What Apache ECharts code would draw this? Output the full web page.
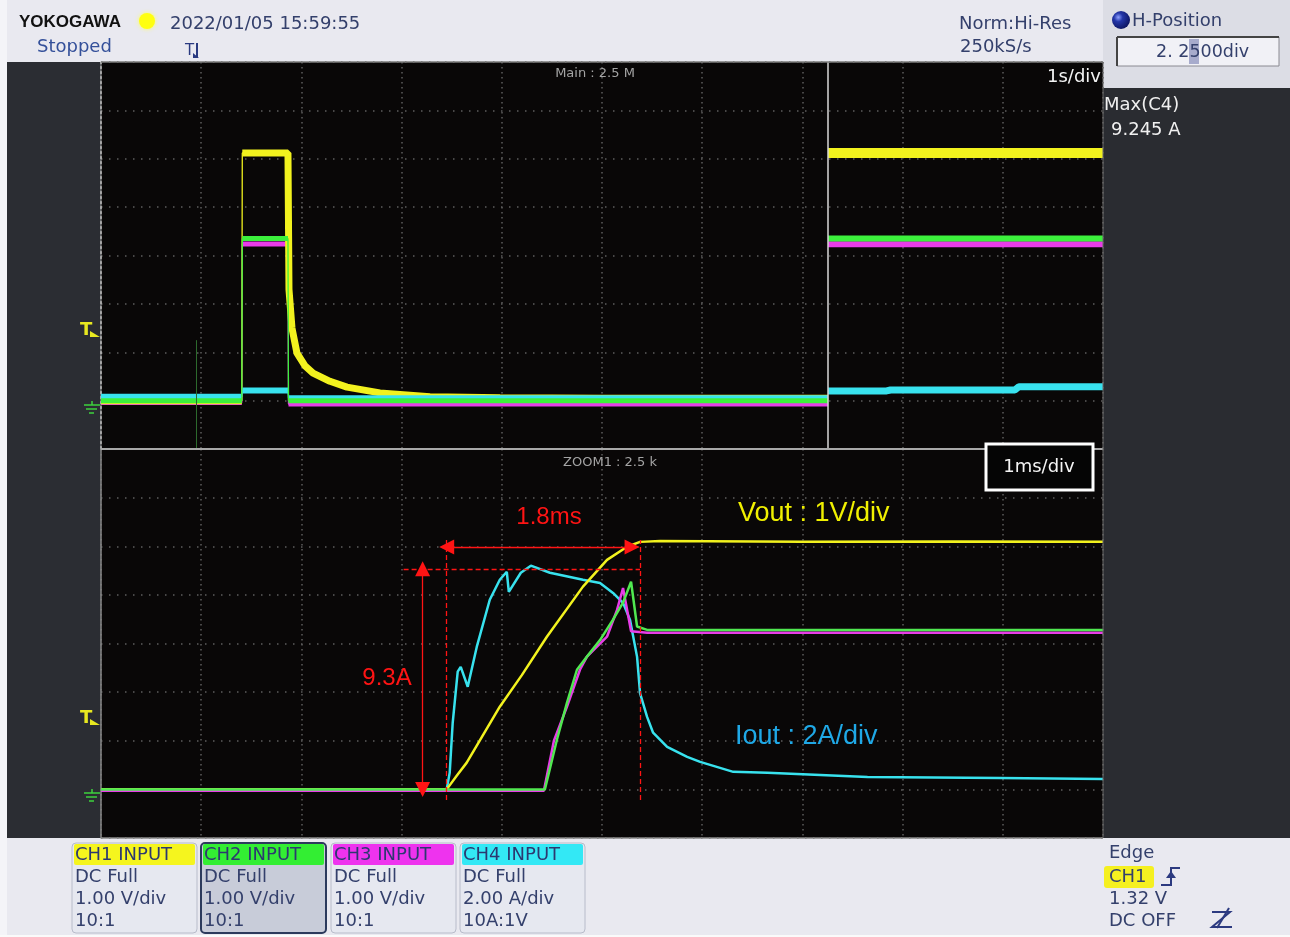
<!DOCTYPE html>
<html><head><meta charset="utf-8">
<script src="https://cdn.jsdelivr.net/npm/echarts@6/dist/echarts.min.js"></script>
<style>html,body{margin:0;padding:0;background:#e9e9f0;}#c{width:1290px;height:937px;}</style>
</head><body><div id="c"></div>
<script>
// ---------- DATA ----------
// Main window (1 s/div): [time s, value]; CH1/CH2/CH3 in V, CH4 in A
const topYellowL = [[0,0],[1.405,0],[1.41,5.12],[1.866,5.12],[1.876,2.3],[1.906,1.5],[1.956,0.98],[2.036,0.72],[2.116,0.57],[2.285,0.40],[2.455,0.28],[2.784,0.16],[3.283,0.08],[3.982,0.06],[5.0,0.05],[7.256,0.05]];
const topGreenL  = [[0,0],[1.405,0],[1.41,3.35],[1.866,3.35],[1.871,0],[7.256,0]];
const topMagentaL= [[0,-0.04],[1.405,-0.04],[1.41,3.24],[1.866,3.24],[1.871,-0.07],[7.256,-0.07]];
const topCyanL   = [[0,0.16],[1.405,0.16],[1.41,0.42],[1.866,0.42],[1.871,0.10],[7.256,0.10]];
const topYellowR = [[7.256,5.12],[10,5.12]];
const topGreenR  = [[7.256,3.35],[10,3.35]];
const topMagentaR= [[7.256,3.23],[10,3.23]];
const topCyanR   = [[7.256,0.40],[7.84,0.40],[7.88,0.44],[9.12,0.44],[9.16,0.57],[10,0.57]];
// Zoom window (1 ms/div): [time ms, value]
const botYellow = [[0,0],[3.45,0],[3.55,0.28],[3.65,0.55],[3.98,1.70],[4.20,2.35],[4.45,3.14],[4.81,4.17],[5.05,4.72],[5.25,4.99],[5.38,5.09],[5.58,5.11],[7.0,5.09],[8.5,5.10],[10,5.09]];
const botCyan = [[0,0],[3.45,0],[3.48,0.68],[3.51,2.74],[3.56,4.84],[3.59,5.04],[3.66,4.22],[3.75,5.86],[3.88,7.80],[3.98,8.62],[4.05,8.95],[4.07,8.12],[4.19,8.91],[4.29,9.2],[4.48,8.91],[4.81,8.62],[4.98,8.49],[5.11,8.08],[5.21,7.67],[5.28,6.97],[5.35,5.45],[5.38,3.95],[5.45,2.98],[5.51,2.33],[5.65,1.75],[5.85,1.34],[5.98,1.13],[6.31,0.72],[6.65,0.68],[7.65,0.51],[8.97,0.47],[10,0.43]];
const botGreen = [[0,0],[4.43,0],[4.55,1.02],[4.65,1.78],[4.75,2.46],[4.85,2.73],[4.98,3.07],[5.11,3.49],[5.21,3.84],[5.29,4.27],[5.35,3.35],[5.45,3.28],[10,3.28]];
const botMagenta = [[0,-0.03],[4.42,-0.03],[4.52,1.0],[4.65,1.70],[4.78,2.46],[4.85,2.73],[5.05,3.14],[5.15,3.69],[5.21,4.14],[5.29,3.25],[5.45,3.22],[10,3.22]];
// annotation values
const riseStart = 3.45, riseEnd = 5.38, arrowEnd = 5.30, peakA = 9.07, vArrowT = 3.21, hDashStart = 3.02;
const trigLevel = 1.32, splitTime = 7.256;
// labels
const chNames = ['CH1 INPUT','CH2 INPUT','CH3 INPUT','CH4 INPUT'];
const chCoupling = ['DC Full','DC Full','DC Full','DC Full'];
const chScale = ['1.00 V/div','1.00 V/div','1.00 V/div','2.00 A/div'];
const chProbe = ['10:1','10:1','10:1','10A:1V'];
const chColors = ['#f5f51e','#33ee33','#ee33ee','#33e8f5'];

// ---------- STYLE ----------
const C_Y='#f2f21e', C_G='#3cf03c', C_M='#e83ce8', C_C='#38e2ee';
const FONT='"DejaVu Sans"';
const GL=101, GW=1002;
const TXT='#34406c';

function splitThick(pts){const out=[];for(let i=0;i<pts.length;i++){if(i>0&&Math.abs(pts[i][0]-pts[i-1][0])<0.006)out.push(null);out.push(pts[i]);}return out;}
function ln(data,color,width,xi,yi,z,extra){return Object.assign({type:'line',data:data,xAxisIndex:xi,yAxisIndex:yi,showSymbol:false,symbol:'none',silent:true,animation:false,z:z||2,lineStyle:{color:color,width:width},connectNulls:false},extra||{});}

const series=[];
function topPair(d,color,w,yi){series.push(ln(d,color,1.3,0,yi,2));series.push(ln(splitThick(d),color,w,0,yi,2));}
// top window, order: magenta, yellow, cyan, green
topPair(topMagentaL,C_M,5,0);topPair(topMagentaR,C_M,6,0);
topPair(topYellowL,C_Y,7,0);topPair(topYellowR,C_Y,10,0);
topPair(topCyanL,C_C,6,1);topPair(topCyanR,C_C,7,1);
topPair(topGreenL,C_G,5,0);topPair(topGreenR,C_G,6,0);
// markers in top window
series.push(ln([],C_Y,1,0,0,3,{markLine:{silent:true,animation:false,symbol:'none',label:{show:false},
  data:[
   [{coord:[splitTime,-1],lineStyle:{color:'#d8d8d8',width:1.5,type:'solid'}},{coord:[splitTime,7]}],
   [{coord:[0.95,-1],lineStyle:{color:'#2d6a2d',width:1,type:'solid'}},{coord:[0.95,1.25]}]
  ]}}));
// bottom window
const annRed='#ff1414';
series.push(ln(botCyan,C_C,2.5,1,3,2,{markLine:{silent:true,animation:false,label:{show:false},symbol:'none',
  data:[
   [{coord:[hDashStart,peakA],lineStyle:{color:annRed,width:1.3,type:[5,3]}},{coord:[riseEnd,peakA]}],
   [{coord:[vArrowT,0],symbol:'triangle',symbolSize:[15,15],lineStyle:{color:annRed,width:1.3,type:'solid'}},{coord:[vArrowT,peakA],symbol:'triangle',symbolSize:[15,15]}]
  ]}}));
series.push(ln(botYellow,C_Y,2.5,1,2,2,{markLine:{silent:true,animation:false,label:{show:false},symbol:'none',
  data:[
   [{coord:[riseStart,-0.22],lineStyle:{color:annRed,width:1.3,type:[5,3]}},{coord:[riseStart,5.13]}],
   [{coord:[riseEnd,-0.22],lineStyle:{color:annRed,width:1.3,type:[5,3]}},{coord:[riseEnd,5.13]}],
   [{coord:[riseStart,4.985],symbol:'triangle',symbolSize:[15,15],lineStyle:{color:annRed,width:1.3,type:'solid'}},{coord:[arrowEnd,4.985],symbol:'triangle',symbolSize:[15,15]}]
  ]}}));
series.push(ln(botMagenta,C_M,2.5,1,2,2));
series.push(ln(botGreen,'#50e850',2.5,1,2,2));

// ---------- GRAPHIC ----------
const g=[];
function T(text,x,y,o){o=o||{};const al=o.align||'left';g.push({type:'text',x:x,y:y,z:o.z||50,silent:true,style:{text:text,fill:o.fill||TXT,font:(o.weight?o.weight+' ':'')+(o.size||18)+'px '+(o.family||FONT),textAlign:al,align:al,textVerticalAlign:'middle',verticalAlign:'middle'}});}
function R(x,y,w,h,fill,o){o=o||{};g.push({type:'rect',z:o.z!=null?o.z:-1,silent:true,shape:{x:x,y:y,width:w,height:h,r:o.r||0},style:{fill:fill,stroke:o.stroke||null,lineWidth:o.lw||0,opacity:o.op!=null?o.op:1}});}
function L(x1,y1,x2,y2,stroke,w,o){o=o||{};g.push({type:'line',z:o.z||40,silent:true,shape:{x1:x1,y1:y1,x2:x2,y2:y2},style:{stroke:stroke,lineWidth:w,lineDash:o.dash||null}});}
function P(points,o){g.push({type:o.closed?'polygon':'polyline',z:o.z||40,silent:true,shape:{points:points},style:{fill:o.fill||null,stroke:o.stroke||null,lineWidth:o.lw||1}});}

// backgrounds
R(0,0,7,937,'#f4f4f8',{z:-2});
R(7,62,94,776,'#2b2d33',{z:-2});
R(1103,88,187,750,'#2a2c31',{z:-2});
R(1103,0,187,88,'#dcdde5',{z:-2});
R(0,935,1290,2,'#fafafa',{z:-2});
// borders
L(101,62,1103,62,'#7c7c7c',1.5);
L(101,449,1103,449,'#a8a8a8',2);
L(101,838,1103,838,'#8a8a8a',1.5);
L(1103,62,1103,838,'#6a6a6a',1);
// header
T('YOKOGAWA',19,22,{family:'"Liberation Sans"',fill:'#111',size:17,weight:'bold'});
g.push({type:'circle',z:50,silent:true,shape:{cx:147,cy:21,r:8},style:{fill:'#ffff10',shadowBlur:4,shadowColor:'#ffff60'}});
T('2022/01/05 15:59:55',170,24);
T('Stopped',37,47,{fill:'#34509a'});
T('T',185,51,{size:15,fill:'#2a3a80'});
L(197,43,197,58,'#2a3a80',2);
P([[193,53],[199,58],[193,58]],{closed:true,fill:'#2a3a80',z:50});
T('Norm:Hi-Res',959,24);
T('250kS/s',960,47);
g.push({type:'circle',z:50,silent:true,shape:{cx:1121,cy:20,r:9},style:{fill:{type:'radial',x:0.35,y:0.35,r:0.7,colorStops:[{offset:0,color:'#8fa0ff'},{offset:0.35,color:'#2436a8'},{offset:1,color:'#0c1460'}]}}});
T('H-Position',1132,21);
R(1117,37,162,29,'#f1f1f6',{z:10,stroke:'#8a8a92',lw:1});
L(1117,37,1279,37,'#444',2,{z:11});L(1117,37,1117,66,'#444',2,{z:11});
R(1189,39,10,25,'#8d93bd',{z:12,op:0.75});
T('2. 2500div',1156,52,{z:13,size:17.5});
// right panel
T('1s/div',1101,77,{fill:'#f4f4f4',align:'right'});
T('Max(C4)',1104,105,{fill:'#f0f0f0'});
T('9.245 A',1111,130,{fill:'#f0f0f0'});
// window titles
T('Main : 2.5 M',595,74,{size:13,fill:'#a4a4a4',align:'center'});
T('ZOOM1 : 2.5 k',610,463,{size:13,fill:'#a4a4a4',align:'center'});
// 1ms/div box
R(986,444,107,46,'#050505',{z:60,stroke:'#ffffff',lw:3});
T('1ms/div',1039,467,{fill:'#f4f4f4',align:'center',z:61});
// annotations
T('1.8ms',549,517,{size:24,family:'"Liberation Sans"',fill:annRed,align:'center'});
T('9.3A',387,678,{size:24,family:'"Liberation Sans"',fill:annRed,align:'center'});
T('Vout : 1V/div',738,514,{size:27,family:'"Liberation Sans"',fill:'#f0f000'});
T('Iout : 2A/div',735,737,{size:27,family:'"Liberation Sans"',fill:'#1fa8e6'});
// left markers (trigger level, ground)
function trig(yTip){T('T',80,yTip-7,{size:18,weight:'bold',fill:'#e8e820',family:'"DejaVu Sans"'});P([[90,yTip-6],[100,yTip],[90,yTip]],{closed:true,fill:'#e8e820',z:51});}
trig(337);trig(725);
function gnd(y){L(84,y,100,y,'#3ed23e',1.5);L(86,y+4,97,y+4,'#3ed23e',1.5);L(89,y+8,94,y+8,'#3ed23e',1.5);L(92,y-4,92,y,'#3ed23e',1.5);}
gnd(405);gnd(793);
// footer channel boxes
for(let i=0;i<4;i++){
  const x0=[72,201,331,460][i];
  const sel=(i===1);
  R(x0,843,125,90,sel?'#c8ccd9':'#e6e8f0',{z:20,r:4,stroke:sel?'#2c3a5c':'#b8bcca',lw:sel?2:1});
  R(x0+2,844,121,21,chColors[i],{z:21,r:2});
  T(chNames[i],x0+3,855,{z:22,fill:'#2c3870'});
  T(chCoupling[i],x0+3,877,{z:22});
  T(chScale[i],x0+3,899,{z:22});
  T(chProbe[i],x0+3,921,{z:22});
}
// trigger summary
T('Edge',1109,853);
R(1104,866,50,22,'#f5f020',{z:20,r:3});
T('CH1',1109,877,{z:22});
P([[1161,885],[1171,885],[1171,868],[1180,868]],{stroke:'#2c3a80',lw:2,z:50});
P([[1166,878],[1171,871],[1176,878]],{closed:true,fill:'#2c3a80',z:50});
T('1.32 V',1109,899);
T('DC OFF',1109,921);
P([[1212,912],[1230,912],[1212,927],[1232,927]],{stroke:'#2c3a80',lw:2,z:50});
L(1217,928,1229,908,'#2c3a80',2,{z:50});

// ---------- CHART ----------
const dotH={show:true,lineStyle:{color:'#5e5e5e',width:1.5,type:[1.5,6.5]}};
const dotV={show:true,lineStyle:{color:'#5e5e5e',width:1.5,type:[1.5,3.5]}};
function xA(gi){return {type:'value',gridIndex:gi,min:0,max:10,interval:1,axisLabel:{show:false},axisTick:{show:false},axisLine:{show:false,onZero:false},splitLine:dotV};}
function yV(gi,lineStyle){return {type:'value',gridIndex:gi,min:-1,max:7,interval:1,axisLabel:{show:false},axisTick:{show:false},axisLine:{show:true,onZero:false,lineStyle:lineStyle},splitLine:dotH};}
function yA(gi){return {type:'value',gridIndex:gi,min:-2,max:14,interval:2,show:false,splitLine:{show:false}};}
const option={
  backgroundColor:'#e9e9f0',
  animation:false,
  grid:[
    {left:GL,top:62,width:GW,height:387,show:true,backgroundColor:'#090707',borderWidth:0,containLabel:false},
    {left:GL,top:449,width:GW,height:389,show:true,backgroundColor:'#090707',borderWidth:0,containLabel:false}
  ],
  xAxis:[xA(0),xA(1)],
  yAxis:[yV(0,{color:'#c4c4c4',width:1.5,type:[3,2]}),yA(0),yV(1,{color:'#8a8a8a',width:1.5,type:'solid'}),yA(1)],
  series:series,
  graphic:{elements:g}
};
const chart=echarts.init(document.getElementById('c'),null,{width:1290,height:937});
chart.setOption(option);
</script></body></html>
